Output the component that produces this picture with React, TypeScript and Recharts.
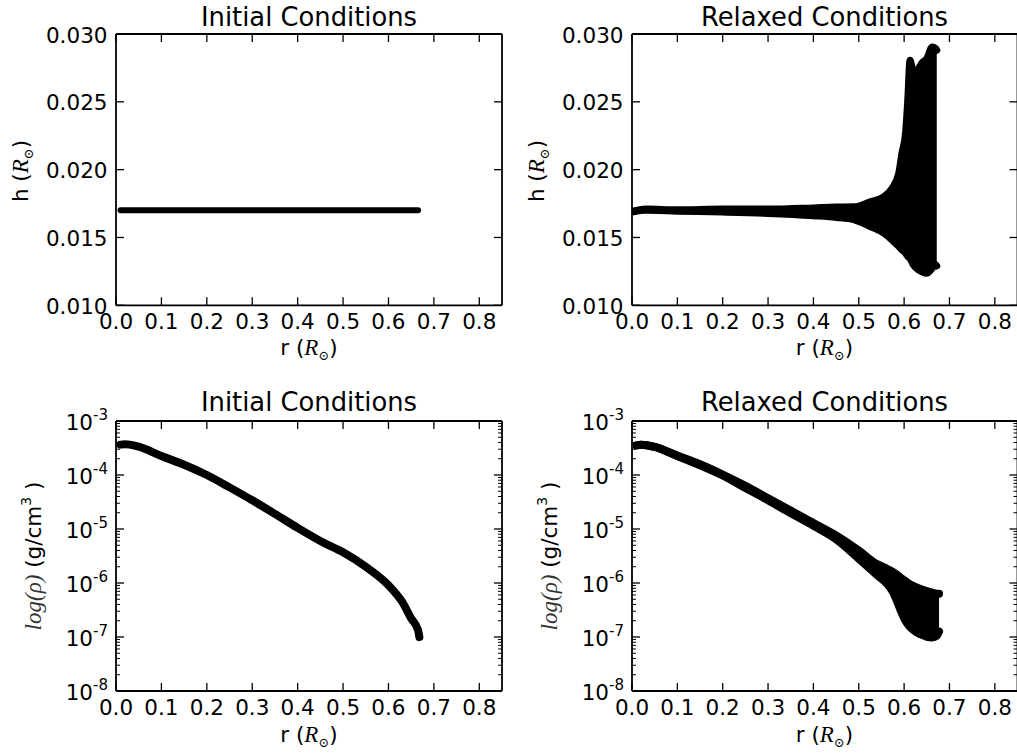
import React from 'react';
import { ComposedChart, Line, Area, XAxis, YAxis } from 'recharts';

// ---------- tick values & labels ----------
const rTicks = [0, 0.1, 0.2, 0.3, 0.4, 0.5, 0.6, 0.7, 0.8];
const rTickLabels = ['0.0', '0.1', '0.2', '0.3', '0.4', '0.5', '0.6', '0.7', '0.8'];
const hTicks = [0.01, 0.015, 0.02, 0.025, 0.03];
const hTickLabels = ['0.010', '0.015', '0.020', '0.025', '0.030'];
const rhoMajorTicks = [1e-8, 1e-7, 1e-6, 1e-5, 1e-4, 1e-3];
const rhoMajorExps = ['-8', '-7', '-6', '-5', '-4', '-3'];
const rhoMinorTicks = [
  2e-8, 3e-8, 4e-8, 5e-8, 6e-8, 7e-8, 8e-8, 9e-8,
  2e-7, 3e-7, 4e-7, 5e-7, 6e-7, 7e-7, 8e-7, 9e-7,
  2e-6, 3e-6, 4e-6, 5e-6, 6e-6, 7e-6, 8e-6, 9e-6,
  2e-5, 3e-5, 4e-5, 5e-5, 6e-5, 7e-5, 8e-5, 9e-5,
  2e-4, 3e-4, 4e-4, 5e-4, 6e-4, 7e-4, 8e-4, 9e-4,
];
const titles = ['Initial Conditions', 'Relaxed Conditions'];

// ---------- data: top-left (initial smoothing length) ----------
const initR = [0.01, 0.1, 0.2, 0.3, 0.4, 0.5, 0.6, 0.665];
const initH = [0.017, 0.017, 0.017, 0.017, 0.017, 0.017, 0.017, 0.017];

// ---------- data: top-right (relaxed smoothing length envelope) ----------
const relaxR = [0.004, 0.03, 0.1, 0.2, 0.3, 0.4, 0.45, 0.49, 0.525, 0.555, 0.573, 0.588, 0.595, 0.603, 0.608, 0.613, 0.62, 0.628, 0.64, 0.65, 0.662, 0.669, 0.672];
const relaxHHigh = [0.01696, 0.0171, 0.01704, 0.01709, 0.01709, 0.01718, 0.01724, 0.01726, 0.01763, 0.018, 0.01861, 0.01971, 0.02119, 0.02266, 0.02512, 0.02807, 0.0273, 0.02733, 0.0279, 0.02819, 0.02905, 0.02894, 0.0288];
const relaxHLow = [0.0169, 0.017, 0.01694, 0.01687, 0.01677, 0.0166, 0.01648, 0.0163, 0.01581, 0.01532, 0.01483, 0.01434, 0.01409, 0.01385, 0.0136, 0.01345, 0.013, 0.0127, 0.01245, 0.01236, 0.01274, 0.013, 0.0129];

// ---------- data: bottom-left (initial density) ----------
const initRhoR = [0.01, 0.02, 0.03, 0.05, 0.1, 0.15, 0.2, 0.25, 0.3, 0.35, 0.4, 0.45, 0.5, 0.55, 0.6, 0.63, 0.65, 0.665, 0.668];
const initRho = [3.65e-4, 3.7e-4, 3.65e-4, 3.35e-4, 2.24e-4, 1.55e-4, 1.0e-4, 5.9e-5, 3.4e-5, 1.9e-5, 1.05e-5, 6.0e-6, 3.7e-6, 2.0e-6, 9.1e-7, 4.5e-7, 2.2e-7, 1.35e-7, 1.0e-7];

// ---------- data: bottom-right (relaxed density envelope) ----------
const relaxRhoR = [0.01, 0.02, 0.05, 0.1, 0.15, 0.2, 0.25, 0.3, 0.35, 0.4, 0.45, 0.5, 0.54, 0.563, 0.574, 0.585, 0.592, 0.6, 0.607, 0.636, 0.662, 0.672, 0.677];
const relaxRhoHigh = [3.55e-4, 3.65e-4, 3.31e-4, 2.29e-4, 1.58e-4, 1.02e-4, 6.31e-5, 3.72e-5, 2.19e-5, 1.29e-5, 7.59e-6, 3.98e-6, 2.24e-6, 1.82e-6, 1.62e-6, 1.41e-6, 1.26e-6, 1.12e-6, 1.02e-6, 7.76e-7, 6.61e-7, 6.31e-7, 6.31e-7];
const relaxRhoLow = [3.55e-4, 3.65e-4, 3.31e-4, 2.24e-4, 1.51e-4, 9.77e-5, 5.75e-5, 3.39e-5, 1.95e-5, 1.15e-5, 6.46e-6, 2.82e-6, 1.41e-6, 9.5e-7, 7.08e-7, 4.47e-7, 3.16e-7, 2.24e-7, 1.78e-7, 1.12e-7, 9.77e-8, 1.05e-7, 1.26e-7];

// ---------- style ----------
const SANS = "'DejaVu Sans', sans-serif";
const SERIF = "'Liberation Serif', 'DejaVu Serif', serif";
const TICK_FS = 21.5;
const TITLE_FS = 25.8;
const MAJ = 8;
const MIN = 4;
const TW = 1.3;

const near = (a: number, b: number) => Math.abs(a - b) <= Math.abs(b) * 1e-6 + 1e-12;

function BottomTick(props: any) {
  const { x, y, payload } = props;
  const i = rTicks.findIndex((t) => near(payload.value, t));
  return (
    <g>
      <line x1={x} x2={x} y1={y} y2={y - MAJ} stroke="#000" strokeWidth={TW} />
      <text x={x} y={y + 24} textAnchor="middle" fontSize={TICK_FS} fontFamily={SANS} fill="#000">
        {i >= 0 ? rTickLabels[i] : ''}
      </text>
    </g>
  );
}

function TopTick(props: any) {
  const { x, y } = props;
  return <line x1={x} x2={x} y1={y} y2={y + MAJ} stroke="#000" strokeWidth={TW} />;
}

function LeftHTick(props: any) {
  const { x, y, payload } = props;
  const i = hTicks.findIndex((t) => near(payload.value, t));
  return (
    <g>
      <line x1={x} x2={x + MAJ} y1={y} y2={y} stroke="#000" strokeWidth={TW} />
      <text x={x - 8.5} y={y + 8.5} textAnchor="end" fontSize={TICK_FS} fontFamily={SANS} fill="#000">
        {i >= 0 ? hTickLabels[i] : ''}
      </text>
    </g>
  );
}

function RightHTick(props: any) {
  const { x, y } = props;
  return <line x1={x} x2={x - MAJ} y1={y} y2={y} stroke="#000" strokeWidth={TW} />;
}

function LeftLogTick(props: any) {
  const { x, y, payload } = props;
  const i = rhoMajorTicks.findIndex((t) => near(payload.value, t));
  if (i < 0) {
    return <line x1={x} x2={x + MIN} y1={y} y2={y} stroke="#000" strokeWidth={1} />;
  }
  return (
    <g>
      <line x1={x} x2={x + MAJ} y1={y} y2={y} stroke="#000" strokeWidth={TW} />
      <text x={x - 8} y={y + 8.5} textAnchor="end" fontSize={TICK_FS} fontFamily={SANS} fill="#000">
        10
        <tspan fontSize={15} dy={-9.5}>
          {rhoMajorExps[i]}
        </tspan>
      </text>
    </g>
  );
}

function RightLogTick(props: any) {
  const { x, y, payload } = props;
  const major = rhoMajorTicks.some((t) => near(payload.value, t));
  return <line x1={x} x2={x - (major ? MAJ : MIN)} y1={y} y2={y} stroke="#000" strokeWidth={major ? TW : 1} />;
}

const axisLine = { stroke: '#000', strokeWidth: 1.8 };

type PanelProps = {
  left: number;
  top: number;
  width: number;
  height: number;
  plotLeft: number;
  plotTop: number;
  plotRight: number;
  plotBottom: number;
  log: boolean;
  children: React.ReactNode;
};

function Panel(p: PanelProps) {
  const yW = p.plotLeft - p.left;
  const mRight = p.left + p.width - p.plotRight - 1;
  const xH = p.top + p.height - p.plotBottom;
  const mTop = p.plotTop - p.top - 1;
  const yTicks = p.log ? [...rhoMajorTicks, ...rhoMinorTicks] : hTicks;
  const yDomain = p.log ? [1e-8, 1e-3] : [0.01, 0.03];
  return (
    <div style={{ position: 'absolute', left: p.left, top: p.top }}>
      <ComposedChart width={p.width} height={p.height} margin={{ top: mTop, right: mRight, bottom: 0, left: 0 }}>
        <XAxis
          xAxisId="b"
          type="number"
          dataKey="r"
          domain={[0, 0.85]}
          ticks={rTicks}
          interval={0}
          allowDataOverflow
          tick={<BottomTick />}
          tickLine={false}
          tickSize={0}
          tickMargin={0}
          height={xH}
          axisLine={axisLine}
        />
        <XAxis
          xAxisId="t"
          orientation="top"
          type="number"
          dataKey="r"
          domain={[0, 0.85]}
          ticks={rTicks}
          interval={0}
          allowDataOverflow
          tick={<TopTick />}
          tickLine={false}
          tickSize={0}
          tickMargin={0}
          height={1}
          axisLine={axisLine}
        />
        <YAxis
          yAxisId="l"
          type="number"
          scale={p.log ? 'log' : 'linear'}
          domain={yDomain}
          ticks={yTicks}
          interval={0}
          allowDataOverflow
          tick={p.log ? <LeftLogTick /> : <LeftHTick />}
          tickLine={false}
          tickSize={0}
          tickMargin={0}
          width={yW}
          axisLine={axisLine}
        />
        <YAxis
          yAxisId="r"
          orientation="right"
          type="number"
          scale={p.log ? 'log' : 'linear'}
          domain={yDomain}
          ticks={yTicks}
          interval={0}
          allowDataOverflow
          tick={p.log ? <RightLogTick /> : <RightHTick />}
          tickLine={false}
          tickSize={0}
          tickMargin={0}
          width={1}
          axisLine={axisLine}
        />
        {p.children}
      </ComposedChart>
    </div>
  );
}

const tlData = initR.map((r, i) => ({ r, h: initH[i] }));
const trData = relaxR.map((r, i) => ({ r, range: [relaxHLow[i], relaxHHigh[i]] }));
const blData = initRhoR.map((r, i) => ({ r, rho: initRho[i] }));
const brData = relaxRhoR.map((r, i) => ({ r, range: [relaxRhoLow[i], relaxRhoHigh[i]] }));

function RSunX({ cx, by }: { cx: number; by: number }) {
  return (
    <text x={cx} y={by} textAnchor="middle" fontSize={TICK_FS} fontFamily={SANS} fill="#000">
      r (<tspan fontFamily={SERIF} fontStyle="italic" fontSize={23}>R</tspan>
      <tspan fontFamily={SERIF} fontSize={13} dy={5}>⊙</tspan>
      <tspan dy={-5}>)</tspan>
    </text>
  );
}

function HLabel({ x, cy }: { x: number; cy: number }) {
  return (
    <text
      x={x}
      y={cy}
      transform={`rotate(-90 ${x} ${cy})`}
      textAnchor="middle"
      fontSize={TICK_FS}
      fontFamily={SANS}
      fill="#000"
    >
      h (<tspan fontFamily={SERIF} fontStyle="italic" fontSize={23}>R</tspan>
      <tspan fontFamily={SERIF} fontSize={13} dy={5}>⊙</tspan>
      <tspan dy={-5}>)</tspan>
    </text>
  );
}

function RhoLabel({ x, cy }: { x: number; cy: number }) {
  return (
    <text
      x={x}
      y={cy}
      transform={`rotate(-90 ${x} ${cy})`}
      textAnchor="middle"
      fontSize={TICK_FS}
      fontFamily={SANS}
      fill="#000"
    >
      <tspan fontFamily={SERIF} fontStyle="italic" fontSize={23} fill="#333">log(ρ)</tspan> (g/cm
      <tspan fontSize={14} dy={-10}>3</tspan>
      <tspan dy={10}> )</tspan>
    </text>
  );
}

export default function App() {
  return (
    <div
      style={{
        position: 'absolute',
        left: 0,
        top: 0,
        width: 1017,
        height: 753,
        overflow: 'hidden',
        background: '#fff',
        fontFamily: SANS,
      }}
    >
      <Panel left={0} top={0} width={510} height={375} plotLeft={116} plotTop={34} plotRight={502} plotBottom={305.3} log={false}>
        <Line
          xAxisId="b"
          yAxisId="l"
          data={tlData}
          dataKey="h"
          type="linear"
          stroke="#000"
          strokeWidth={6}
          strokeLinecap="round"
          dot={false}
          activeDot={false}
          isAnimationActive={false}
        />
      </Panel>
      <Panel left={510} top={0} width={509} height={375} plotLeft={632} plotTop={34} plotRight={1017.5} plotBottom={305.3} log={false}>
        <Area
          xAxisId="b"
          yAxisId="l"
          data={trData}
          dataKey="range"
          type="monotone"
          stroke="#000"
          strokeWidth={7}
          strokeLinejoin="round"
          strokeLinecap="round"
          fill="#000"
          fillOpacity={1}
          dot={false}
          activeDot={false}
          isAnimationActive={false}
        />
      </Panel>
      <Panel left={0} top={375} width={510} height={378} plotLeft={116} plotTop={421} plotRight={502} plotBottom={691} log={true}>
        <Line
          xAxisId="b"
          yAxisId="l"
          data={blData}
          dataKey="rho"
          type="monotone"
          stroke="#000"
          strokeWidth={8}
          strokeLinecap="round"
          strokeLinejoin="round"
          dot={false}
          activeDot={false}
          isAnimationActive={false}
        />
      </Panel>
      <Panel left={510} top={375} width={509} height={378} plotLeft={632} plotTop={421} plotRight={1017.5} plotBottom={691} log={true}>
        <Area
          xAxisId="b"
          yAxisId="l"
          data={brData}
          dataKey="range"
          type="monotone"
          stroke="#000"
          strokeWidth={8}
          strokeLinejoin="round"
          strokeLinecap="round"
          fill="#000"
          fillOpacity={1}
          dot={false}
          activeDot={false}
          isAnimationActive={false}
        />
      </Panel>
      <svg
        width={1017}
        height={753}
        style={{ position: 'absolute', left: 0, top: 0, pointerEvents: 'none' }}
      >
        <text x={309} y={26} textAnchor="middle" fontSize={TITLE_FS} fontFamily={SANS} fill="#000">{titles[0]}</text>
        <text x={824.5} y={26} textAnchor="middle" fontSize={TITLE_FS} fontFamily={SANS} fill="#000">{titles[1]}</text>
        <text x={309} y={410.5} textAnchor="middle" fontSize={TITLE_FS} fontFamily={SANS} fill="#000">{titles[0]}</text>
        <text x={824.5} y={410.5} textAnchor="middle" fontSize={TITLE_FS} fontFamily={SANS} fill="#000">{titles[1]}</text>
        <RSunX cx={309} by={355} />
        <RSunX cx={824.5} by={355} />
        <RSunX cx={309} by={741.5} />
        <RSunX cx={824.5} by={741.5} />
        <HLabel x={28} cy={171} />
        <HLabel x={544} cy={171} />
        <RhoLabel x={40.5} cy={556} />
        <RhoLabel x={556.5} cy={556} />
      </svg>
    </div>
  );
}
